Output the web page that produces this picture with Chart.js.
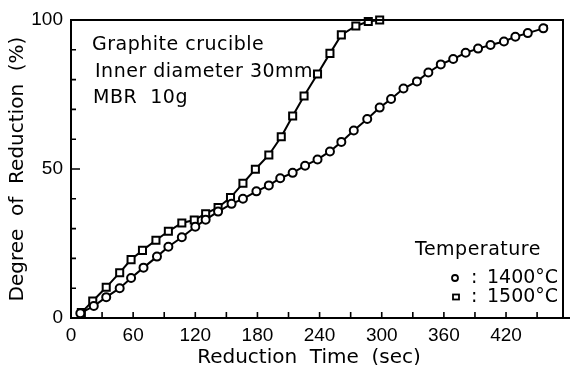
<!DOCTYPE html>
<html>
<head>
<meta charset="utf-8">
<script src="https://cdn.jsdelivr.net/npm/chart.js@4/dist/chart.umd.min.js"></script>
<style>
  html, body { margin: 0; padding: 0; background: #fff; }
  #wrap { width: 570px; height: 365px; }
</style>
</head>
<body>
<div id="wrap"><canvas id="c" width="570" height="365"></canvas></div>
<script>
// values
const time1400 = [9, 22, 34, 47, 58, 70, 83, 94, 107, 120, 130, 142, 155, 166, 179, 191, 202, 214, 226, 238, 250, 261, 273, 286, 298, 309, 321, 334, 345, 357, 369, 381, 393, 405, 418, 429, 441, 456, 460];
const red1400 = [1.6, 4.0, 7.0, 10.0, 13.4, 16.9, 20.6, 23.9, 27.1, 30.6, 33.0, 35.7, 38.3, 40.0, 42.5, 44.5, 46.9, 48.7, 51.1, 53.2, 55.9, 59.1, 62.9, 66.8, 70.6, 73.5, 77.0, 79.4, 82.4, 85.1, 86.9, 89.0, 90.4, 91.6, 92.8, 94.4, 95.6, 97.2, 98.3];
const time1500 = [10, 21, 34, 47, 58, 69, 82, 94, 107, 119, 130, 142, 154, 166, 178, 191, 203, 214, 225, 238, 250, 261, 275, 287, 298];
const red1500 = [1.8, 5.7, 10.3, 15.2, 19.6, 22.7, 26.1, 29.1, 31.9, 32.9, 35.0, 37.1, 40.4, 45.2, 49.9, 54.7, 60.8, 67.8, 74.5, 81.9, 88.8, 95.0, 98.0, 99.5, 100];
const xTickLabels = [0, 60, 120, 180, 240, 300, 360, 420];
const yTickLabels = [0, 50, 100];
const noteLines = ["Graphite crucible", "Inner diameter 30mm", "MBR  10g"];
const xTitle = "Reduction  Time  (sec)";

const TEXT_FONT = "'DejaVu Sans', sans-serif";
const NUM_FONT = "'Liberation Sans Narrow', 'Liberation Sans', sans-serif";

function toPoints(xs, ys) {
  return xs.map((x, i) => ({ x: x, y: ys[i] }));
}

// the last 1400 value is only the line's tail, no marker
const radius1400 = time1400.map((t, i) => (i === time1400.length - 1 ? 0 : 4));

const decorations = {
  id: "decorations",
  afterDraw(chart) {
    const ctx = chart.ctx;
    const a = chart.chartArea;
    const xs = chart.scales.x;
    const ys = chart.scales.y;
    ctx.save();
    ctx.strokeStyle = "#000";
    ctx.lineWidth = 2;
    ctx.strokeRect(a.left, a.top, a.right - a.left, a.bottom - a.top);
    // bottom axis runs to the edge
    ctx.beginPath();
    ctx.moveTo(a.right, a.bottom);
    ctx.lineTo(chart.width, a.bottom);
    ctx.stroke();

    // inward ticks
    ctx.lineWidth = 1.6;
    ctx.beginPath();
    for (let v = 30; v < xs.max; v += 30) {
      const px = xs.getPixelForValue(v);
      ctx.moveTo(px, a.bottom);
      ctx.lineTo(px, a.bottom - 6);
    }
    for (let v = 10; v < 100; v += 10) {
      const py = ys.getPixelForValue(v);
      ctx.moveTo(a.left, py);
      ctx.lineTo(a.left + (v === 50 ? 9 : 5), py);
    }
    ctx.stroke();

    ctx.fillStyle = "#000";
    ctx.textBaseline = "middle";
    ctx.textAlign = "left";

    // x axis title
    ctx.font = "20px " + TEXT_FONT;
    ctx.textAlign = "center";
    ctx.fillText(xTitle, 309, 358);
    ctx.textAlign = "left";

    // conditions note
    ctx.font = "19px " + TEXT_FONT;
    ctx.letterSpacing = "0.5px";
    ctx.fillText(noteLines[0], 92, 45);
    ctx.fillText(noteLines[1], 95, 72);
    ctx.fillText(noteLines[2], 93, 98);

    // temperature key
    ctx.fillText("Temperature", 415, 250);
    ctx.letterSpacing = "0px";
    ctx.fillText(":", 471, 278);
    ctx.fillText(":", 471, 297);
    ctx.fillText("1400°C", 487, 278);
    ctx.fillText("1500°C", 487, 297);
    ctx.lineWidth = 1.8;
    ctx.beginPath();
    ctx.arc(455, 278, 3, 0, Math.PI * 2);
    ctx.stroke();
    ctx.strokeRect(453, 294.5, 6, 5);
    ctx.restore();
  },
};

new Chart(document.getElementById("c"), {
  type: "line",
  data: {
    datasets: [
      {
        label: "1400°C",
        data: toPoints(time1400, red1400),
        borderColor: "#000",
        borderWidth: 2,
        pointStyle: "circle",
        pointRadius: radius1400,
        pointBorderWidth: 2,
        pointBackgroundColor: "#fff",
        pointBorderColor: "#000",
        tension: 0,
        clip: false,
      },
      {
        label: "1500°C",
        data: toPoints(time1500, red1500),
        borderColor: "#000",
        borderWidth: 2,
        pointStyle: "rect",
        pointRadius: 5,
        pointBorderWidth: 2,
        pointBackgroundColor: "#fff",
        pointBorderColor: "#000",
        tension: 0,
        clip: false,
      },
    ],
  },
  options: {
    responsive: false,
    animation: false,
    layout: { padding: { top: 20, right: 3, left: 0, bottom: 0 } },
    plugins: {
      legend: { display: false },
      tooltip: { enabled: false },
    },
    scales: {
      x: {
        type: "linear",
        min: 0,
        max: 475,
        grid: { display: false, drawTicks: false },
        border: { display: false },
        afterBuildTicks: (scale) => {
          scale.ticks = xTickLabels.map((v) => ({ value: v }));
        },
        afterFit: (scale) => {
          scale.height = 47;
        },
        ticks: {
          color: "#000",
          padding: 6,
          maxRotation: 0,
          autoSkip: false,
          font: { family: NUM_FONT, size: 19 },
        },
      },
      y: {
        min: 0,
        max: 100,
        grid: { display: false, drawTicks: false },
        border: { display: false },
        afterBuildTicks: (scale) => {
          scale.ticks = yTickLabels.map((v) => ({ value: v }));
        },
        afterFit: (scale) => {
          scale.width = 71;
        },
        ticks: {
          color: "#000",
          padding: 8,
          font: { family: NUM_FONT, size: 19 },
        },
        title: {
          display: true,
          text: "Degree  of  Reduction  (%)",
          color: "#000",
          padding: { top: 6, bottom: 0 },
          font: { family: TEXT_FONT, size: 20 },
        },
      },
    },
  },
  plugins: [decorations],
});
</script>
</body>
</html>
